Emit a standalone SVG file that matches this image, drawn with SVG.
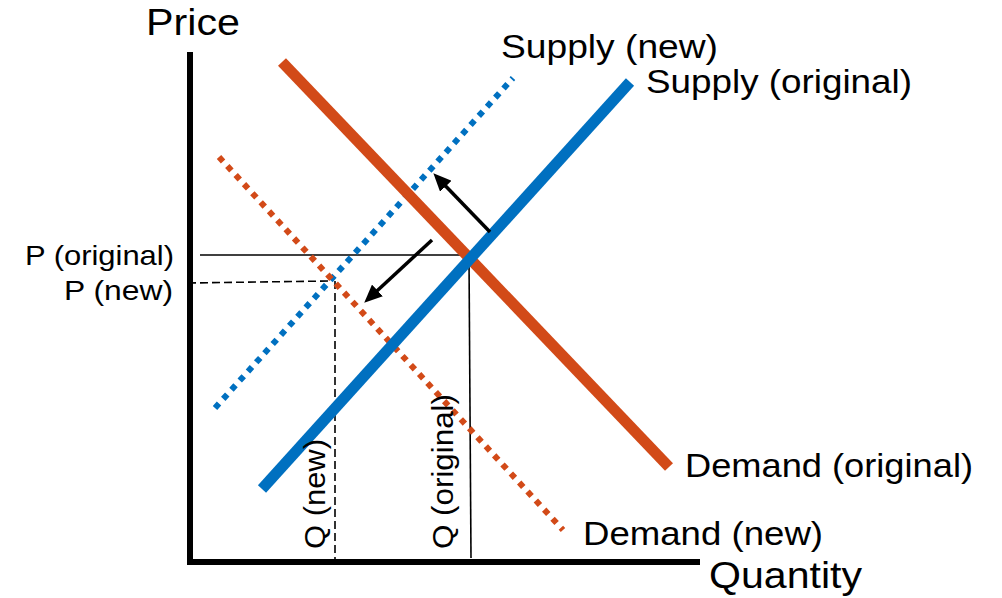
<svg xmlns="http://www.w3.org/2000/svg" width="1002" height="598" viewBox="0 0 1002 598">
  <style>
    .lbl { font-family: "Liberation Sans", Arial, sans-serif; fill: #000; }
    .axis { stroke: #000; stroke-width: 6; fill: none; }
    .guide { stroke: #000; stroke-width: 1.6; fill: none; }
    .guide-dash { stroke: #000; stroke-width: 1.6; fill: none; stroke-dasharray: 8 4; }
    .supply { stroke: #0070C0; stroke-width: 11; fill: none; }
    .demand { stroke: #D24A18; stroke-width: 11; fill: none; }
    .supply-dot { stroke: #0070C0; stroke-width: 6; fill: none; stroke-dasharray: 6 6.3; }
    .demand-dot { stroke: #D24A18; stroke-width: 6; fill: none; stroke-dasharray: 6 6.3; }
    .shift { stroke: #000; stroke-width: 3.5; fill: none; marker-end: url(#head); }
  </style>
  <defs>
    <marker id="head" markerUnits="userSpaceOnUse" markerWidth="18" markerHeight="16" refX="7" refY="8" orient="auto" viewBox="0 0 18 16">
      <path d="M0,0 L18,8 L0,16 z" fill="#000"/>
    </marker>
  </defs>

  <!-- axes -->
  <g id="axes">
    <line class="axis" x1="190" y1="52" x2="190" y2="565"/>
    <line class="axis" x1="187" y1="562" x2="700" y2="562"/>
    <text class="lbl" x="146" y="35" font-size="36.5" textLength="94" lengthAdjust="spacingAndGlyphs">Price</text>
    <text class="lbl" x="709" y="588" font-size="37" textLength="153" lengthAdjust="spacingAndGlyphs">Quantity</text>
  </g>

  <!-- equilibrium guide lines -->
  <g id="guides">
    <line class="guide" x1="200" y1="255" x2="471" y2="255"/>
    <line class="guide" x1="469" y1="258" x2="471" y2="558"/>
    <line class="guide-dash" x1="188" y1="283" x2="330" y2="281"/>
    <line class="guide-dash" x1="335" y1="281" x2="335" y2="560"/>
  </g>

  <!-- curves -->
  <g id="supply-new">
    <line class="supply-dot" x1="215" y1="408" x2="513" y2="78"/>
    <text class="lbl" x="501" y="58" font-size="34" textLength="217" lengthAdjust="spacingAndGlyphs">Supply (new)</text>
  </g>
  <g id="demand-new">
    <line class="demand-dot" x1="219" y1="157" x2="563" y2="530"/>
    <text class="lbl" x="583" y="545" font-size="33.5" textLength="240" lengthAdjust="spacingAndGlyphs">Demand (new)</text>
  </g>
  <g id="demand-original">
    <line class="demand" x1="282" y1="62" x2="669" y2="467"/>
    <text class="lbl" x="685" y="477" font-size="33.5" textLength="288" lengthAdjust="spacingAndGlyphs">Demand (original)</text>
  </g>
  <g id="supply-original">
    <line class="supply" x1="262" y1="489" x2="630" y2="82"/>
    <text class="lbl" x="646" y="93" font-size="34" textLength="266" lengthAdjust="spacingAndGlyphs">Supply (original)</text>
  </g>

  <!-- price and quantity labels -->
  <g id="price-labels">
    <text class="lbl" x="174" y="265" font-size="28.5" text-anchor="end" textLength="149" lengthAdjust="spacingAndGlyphs">P (original)</text>
    <text class="lbl" x="173" y="300" font-size="28.5" text-anchor="end" textLength="109" lengthAdjust="spacingAndGlyphs">P (new)</text>
  </g>
  <g id="quantity-labels">
    <text class="lbl" font-size="29" transform="translate(325,549) rotate(-90)" textLength="110" lengthAdjust="spacingAndGlyphs">Q (new)</text>
    <text class="lbl" font-size="29" transform="translate(453,549) rotate(-90)" textLength="155" lengthAdjust="spacingAndGlyphs">Q (original)</text>
  </g>

  <!-- shift arrows -->
  <g id="connectors">
    <line class="shift" x1="490" y1="232" x2="441" y2="181.2"/>
    <line class="shift" x1="432" y1="240" x2="372.3" y2="295.2"/>
  </g>
</svg>
